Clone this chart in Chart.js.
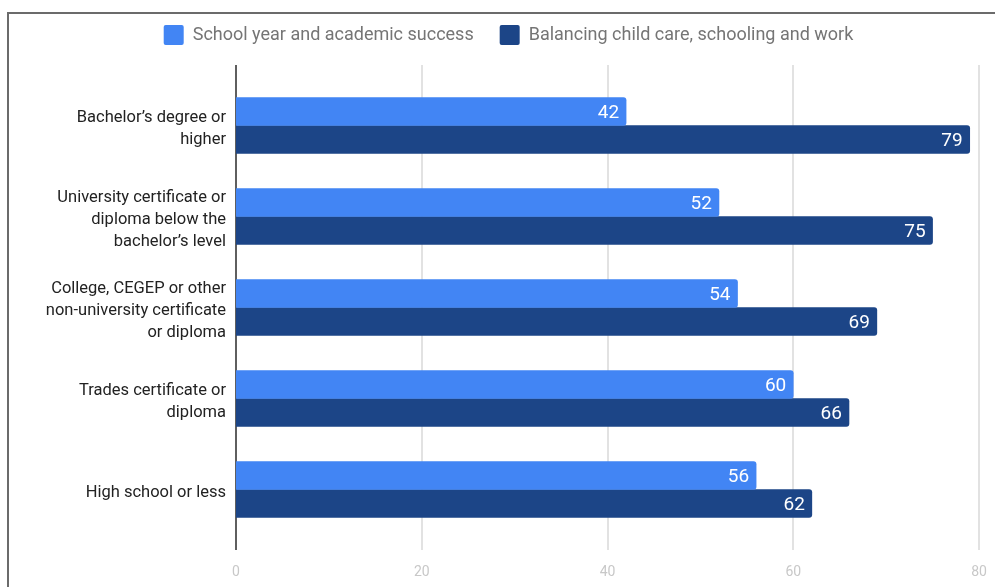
<!DOCTYPE html>
<html>
<head>
<meta charset="utf-8">
<script src="https://cdn.jsdelivr.net/npm/chart.js@4/dist/chart.umd.min.js"></script>
<style>
  html, body { margin: 0; padding: 0; background: #fff; }
  #wrap { position: relative; width: 995px; height: 587px; overflow: hidden; }
  #frame { position: absolute; left: 7px; top: 12px; width: 1000px; height: 600px;
           border-top: 2px solid #6b6b6b; border-left: 2px solid #6b6b6b; }
  canvas { position: absolute; left: 0; top: 0; }
</style>
</head>
<body>
<div id="wrap">
  <div id="frame"></div>
  <canvas id="myChart" width="995" height="587"></canvas>
</div>
<script>
// data
var categories = [
    ['Bachelor\u2019s degree or', 'higher'],
    ['University certificate or', 'diploma below the', 'bachelor\u2019s level'],
    ['College, CEGEP or other', 'non-university certificate', 'or diploma'],
    ['Trades certificate or', 'diploma'],
    ['High school or less']
];
var schoolYear = [42, 52, 54, 60, 56];
var childCare = [79, 75, 69, 66, 62];
var xTicks = [0, 20, 40, 60, 80];

// grid lines run a bit past the plot top and bottom
var gridPlugin = {
    id: 'gridLines',
    beforeDatasetsDraw: function(chart) {
        var ctx = chart.ctx, area = chart.chartArea, x = chart.scales.x;
        ctx.save();
        x.ticks.forEach(function(t) {
            var px = Math.round(x.getPixelForValue(t.value));
            ctx.beginPath();
            ctx.lineWidth = 2;
            ctx.strokeStyle = t.value === 0 ? '#5f5f5f' : '#e2e2e2';
            ctx.moveTo(px, area.top - 15);
            ctx.lineTo(px, area.bottom + 15);
            ctx.stroke();
        });
        ctx.restore();
    }
};

// white values at the end of each bar
var valuePlugin = {
    id: 'values',
    afterDatasetsDraw: function(chart) {
        var ctx = chart.ctx;
        ctx.save();
        ctx.font = '19px Roboto';
        ctx.fillStyle = '#ffffff';
        ctx.textAlign = 'right';
        ctx.textBaseline = 'middle';
        chart.data.datasets.forEach(function(ds, i) {
            chart.getDatasetMeta(i).data.forEach(function(bar, j) {
                ctx.fillText(ds.data[j], bar.x - 7, bar.y + 2);
            });
        });
        ctx.restore();
    }
};

// make the legend box taller so the plot starts lower
var legendHeight = {
    id: 'legendHeight',
    beforeLayout: function(chart) {
        var lg = chart.legend;
        if (lg && !lg._patched) {
            var fit = lg.fit;
            lg.fit = function() {
                fit.call(this);
                this.height = 81;
            };
            lg._patched = true;
        }
    }
};

var ctx = document.getElementById('myChart').getContext('2d');
var chart = new Chart(ctx, {
    type: 'bar',
    data: {
        labels: categories,
        datasets: [{
            label: 'School year and academic success',
            data: schoolYear,
            backgroundColor: '#4285f4',
            borderRadius: 3,
            barThickness: 28
        }, {
            label: 'Balancing child care, schooling and work',
            data: childCare,
            backgroundColor: '#1c4587',
            borderRadius: 3,
            barThickness: 28
        }]
    },
    plugins: [gridPlugin, valuePlugin, legendHeight],
    options: {
        indexAxis: 'y',
        responsive: false,
        animation: false,
        datasets: { bar: { categoryPercentage: 60 / 91, barPercentage: 28 / 30 } },
        layout: { padding: { left: 38, right: 16, top: -1, bottom: 8 } },
        plugins: {
            legend: {
                position: 'top',
                labels: {
                    boxWidth: 20,
                    boxHeight: 20,
                    useBorderRadius: true,
                    borderRadius: 2,
                    padding: 26,
                    color: '#757575',
                    font: { family: 'Roboto', size: 18 }
                }
            },
            tooltip: { enabled: false }
        },
        scales: {
            x: {
                min: 0,
                max: 80,
                afterBuildTicks: function(scale) {
                    scale.ticks = xTicks.map(function(v) { return { value: v }; });
                },
                afterFit: function(scale) {
                    scale.height = 44;
                    scale.paddingLeft = 0;
                    scale.paddingRight = 0;
                },
                grid: { display: false, drawTicks: false },
                border: { display: false },
                ticks: {
                    padding: 29,
                    maxRotation: 0,
                    color: '#c8c8c8',
                    font: { family: 'Roboto', size: 14 }
                }
            },
            y: {
                afterFit: function(scale) {
                    scale.width = 198;
                    scale.paddingTop = 0;
                    scale.paddingBottom = 0;
                },
                grid: { display: false, drawTicks: false },
                border: { display: false },
                ticks: {
                    padding: 10,
                    labelOffset: 3,
                    color: '#222222',
                    font: { family: 'Roboto', size: 16.5, lineHeight: 1.33 }
                }
            }
        }
    }
});
</script>
</body>
</html>
